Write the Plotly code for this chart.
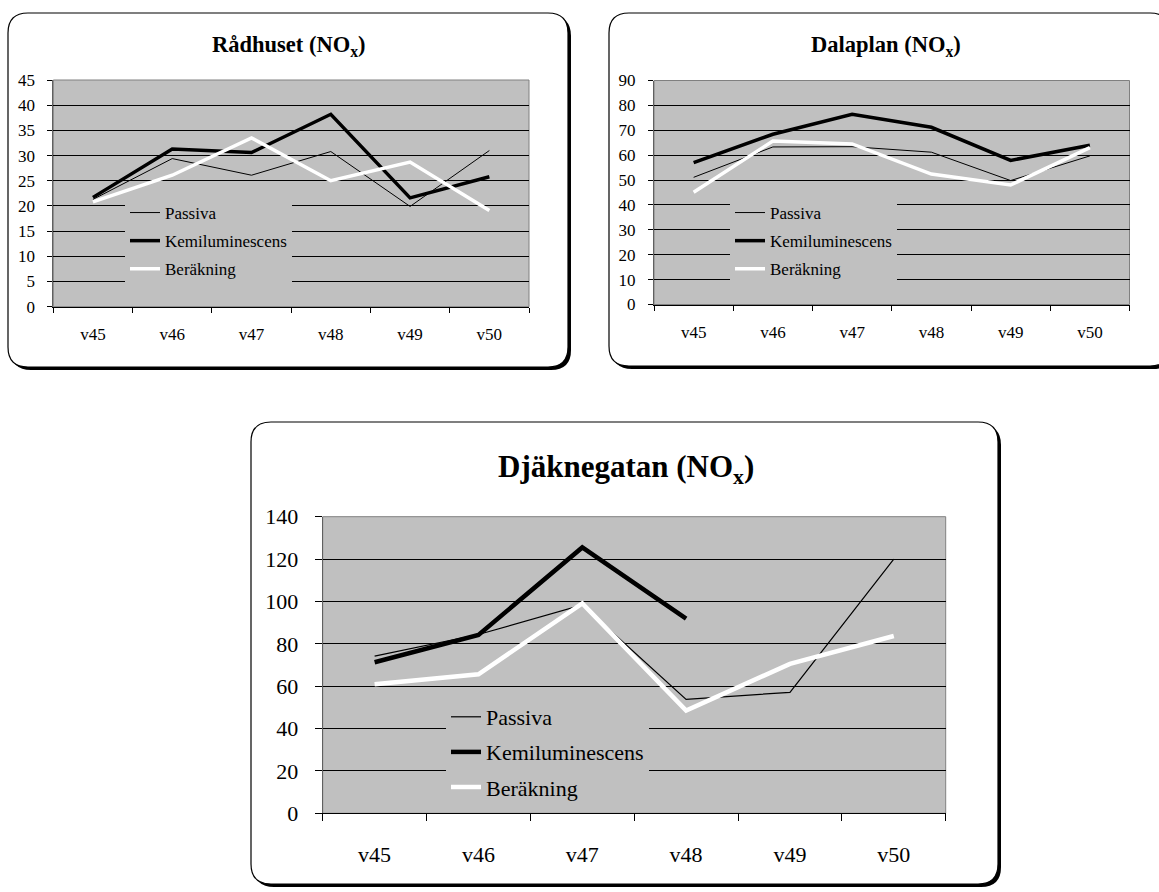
import plotly.graph_objects as go

W, H = 1159, 892

weeks = ["v45", "v46", "v47", "v48", "v49", "v50"]
series_names = ["Passiva", "Kemiluminescens", "Beräkning"]

# Rådhuset
radhuset_passiva = [21.3, 29.4, 26.1, 30.8, 19.9, 31.0]
radhuset_kemi = [21.7, 31.3, 30.6, 38.2, 21.6, 25.8]
radhuset_berakning = [20.8, 26.1, 33.5, 25.0, 28.7, 19.1]

# Dalaplan
dalaplan_passiva = [51.1, 63.3, 63.4, 61.2, 49.8, 59.7]
dalaplan_kemi = [57.0, 68.4, 76.4, 71.2, 57.9, 64.0]
dalaplan_berakning = [45.1, 65.7, 64.5, 52.4, 48.0, 63.0]

# Djäknegatan (Kemiluminescens saknas v49-v50)
djakne_passiva = [74.2, 84.4, 98.3, 53.8, 57.1, 120.0]
djakne_kemi = [71.3, 84.2, 125.5, 91.9, None, None]
djakne_berakning = [60.9, 65.6, 99.1, 48.5, 70.5, 83.7]

titles = ["Rådhuset (NO<sub>x</sub>)", "Dalaplan (NO<sub>x</sub>)", "Djäknegatan (NO<sub>x</sub>)"]
y_ranges = [(0, 45, 5), (0, 90, 10), (0, 140, 20)]

FONT = "Liberation Serif"
PLOT_BG = "#c0c0c0"


def px(x):
    return x / W


def py(y):
    return 1 - y / H


# panel geometry in pixels: plot box (l, t, r, b), card box, title centre, legend anchor, font sizes
panels = [
    dict(plot=(53.3, 80.0, 529.0, 306.7), card=(8, 13, 568, 367), title=(289, 46), tsize=22.5,
         legend=(125, 195), fsize=17, gap=3, xstand=12, lw=(1, 3.5, 3.5), ticklen=5),
    dict(plot=(654.0, 80.5, 1129.5, 304.5), card=(609, 13, 1170, 366), title=(886, 46), tsize=22.5,
         legend=(730, 195), fsize=17, gap=3, xstand=12, lw=(1, 3.5, 3.5), ticklen=5),
    dict(plot=(322.7, 516.7, 945.7, 813.3), card=(251, 422, 998, 884), title=(626, 469), tsize=31,
         legend=(446, 696), fsize=22, gap=3.5, xstand=21, lw=(1.2, 4.5, 4.5), ticklen=7),
]

data_sets = [
    (radhuset_passiva, radhuset_kemi, radhuset_berakning),
    (dalaplan_passiva, dalaplan_kemi, dalaplan_berakning),
    (djakne_passiva, djakne_kemi, djakne_berakning),
]

colors = ["black", "black", "white"]


def rounded_path(l, t, r, b, rad):
    pts = [
        ("M", (l + rad, t)), ("L", (r - rad, t)), ("Q", (r, t), (r, t + rad)),
        ("L", (r, b - rad)), ("Q", (r, b), (r - rad, b)), ("L", (l + rad, b)),
        ("Q", (l, b), (l, b - rad)), ("L", (l, t + rad)), ("Q", (l, t), (l + rad, t)),
    ]
    out = []
    for seg in pts:
        cmd = seg[0]
        coords = " ".join(f"{px(x):.6f},{py(y):.6f}" for x, y in seg[1:])
        out.append(f"{cmd} {coords}")
    return " ".join(out) + " Z"


fig = go.Figure()
card_shapes = []
plot_shapes = []
annotations = []
layout = dict(
    width=W, height=H, margin=dict(l=0, r=0, t=0, b=0, autoexpand=False),
    paper_bgcolor="white", plot_bgcolor=PLOT_BG, showlegend=True,
    font=dict(family=FONT, color="black"),
)

for i, (panel, vals) in enumerate(zip(panels, data_sets)):
    n = i + 1
    xa = "x" if n == 1 else f"x{n}"
    ya = "y" if n == 1 else f"y{n}"
    leg = "legend" if n == 1 else f"legend{n}"
    l, t, r, b = panel["plot"]
    fs = panel["fsize"]

    for name, v, c, w in zip(series_names, vals, colors, panel["lw"]):
        fig.add_trace(go.Scatter(
            x=weeks, y=v, name=name, mode="lines",
            line=dict(color=c, width=w), connectgaps=False,
            xaxis=xa, yaxis=ya, legend=leg, legendgroup=f"{n}-{name}",
            hoverinfo="skip",
        ))

    y0, y1, dy = y_ranges[i]
    layout[f"xaxis{'' if n == 1 else n}"] = dict(
        domain=[px(l), px(r)], anchor=ya, type="category",
        categoryorder="array", categoryarray=weeks, range=[-0.5, len(weeks) - 0.5],
        tickson="boundaries", ticks="outside", ticklen=panel["ticklen"],
        tickcolor="black", showline=True, linecolor="black", linewidth=1,
        showgrid=False, zeroline=False, ticklabelstandoff=panel["xstand"],
        automargin=False, fixedrange=True,
        tickfont=dict(family=FONT, size=fs, color="black"),
    )
    layout[f"yaxis{'' if n == 1 else n}"] = dict(
        domain=[py(b), py(t)], anchor=xa, range=[y0, y1], dtick=dy, tick0=0,
        ticks="outside", ticklen=panel["ticklen"], tickcolor="black",
        showline=True, linecolor="#606060", linewidth=1,
        showgrid=True, gridcolor="black", gridwidth=1, zeroline=False,
        ticklabelstandoff=int(fs * 0.55), automargin=False, fixedrange=True,
        tickfont=dict(family=FONT, size=fs, color="black"),
    )

    lx, ly = panel["legend"]
    layout[leg] = dict(
        x=px(lx), y=py(ly), xanchor="left", yanchor="top",
        xref="paper", yref="paper",
        bgcolor=PLOT_BG, borderwidth=0, itemwidth=30,
        tracegroupgap=panel["gap"], traceorder="grouped",
        font=dict(family=FONT, size=fs, color="black"),
        itemclick=False, itemdoubleclick=False,
    )

    # card with drop shadow
    cl, ct, cr, cb = panel["card"]
    card_shapes.append(dict(type="path", path=rounded_path(cl + 3, ct + 3, cr + 3, cb + 3, 20),
                            xref="paper", yref="paper", fillcolor="black",
                            line=dict(color="black", width=0), layer="below"))
    card_shapes.append(dict(type="path", path=rounded_path(cl, ct, cr, cb, 20),
                            xref="paper", yref="paper", fillcolor="white",
                            line=dict(color="black", width=1.2), layer="below"))
    # grey plot area with its frame
    plot_shapes.append(dict(type="rect", xref=f"{xa} domain", yref=f"{ya} domain",
                            x0=0, x1=1, y0=0, y1=1, line=dict(color="#808080", width=1),
                            fillcolor=PLOT_BG, layer="below"))

    tx, ty = panel["title"]
    annotations.append(dict(
        text=f"<b>{titles[i]}</b>", x=px(tx), y=py(ty), xref="paper", yref="paper",
        xanchor="center", yanchor="middle", showarrow=False,
        font=dict(family=FONT, size=panel["tsize"], color="black"),
    ))

layout["shapes"] = card_shapes + plot_shapes
layout["annotations"] = annotations
fig.update_layout(**layout)

fig.write_html("out.html")
